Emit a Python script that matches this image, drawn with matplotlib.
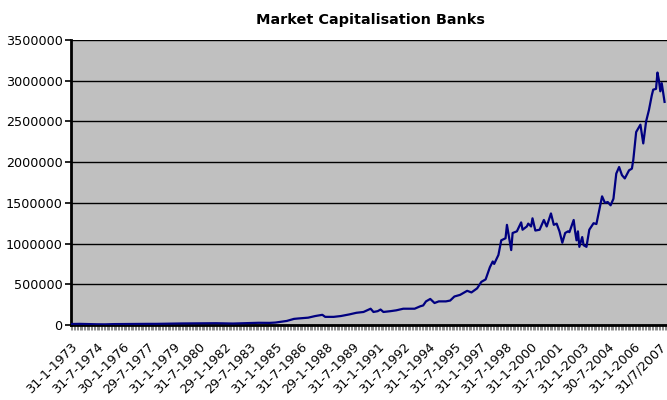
import matplotlib
matplotlib.use("Agg")
import matplotlib.pyplot as plt
from matplotlib.ticker import MultipleLocator

plt.rcParams['font.family'] = ['DejaVu Sans']

# ---- data ----
dates = [
    "1973-01", "1973-07", "1974-01", "1974-07", "1975-01", "1975-07", "1976-01", "1976-07",
    "1977-01", "1977-07", "1978-01", "1978-07", "1979-01", "1979-07", "1980-01", "1980-07",
    "1981-01", "1981-07", "1982-01", "1982-07", "1983-01", "1983-07", "1984-01", "1984-09",
    "1985-01", "1985-04", "1985-09", "1986-02", "1986-05", "1986-12", "1987-05", "1987-10",
    "1987-12", "1988-06", "1988-11", "1989-05", "1989-10", "1990-03", "1990-08", "1990-10",
    "1991-01", "1991-03", "1991-05", "1991-10", "1992-02", "1992-07", "1992-12", "1993-03",
    "1993-07", "1993-09", "1993-11", "1994-02", "1994-05", "1994-08", "1995-01", "1995-04",
    "1995-07", "1995-11", "1996-04", "1996-07", "1996-11", "1997-02", "1997-05", "1997-08",
    "1997-10", "1997-11", "1998-02", "1998-04", "1998-07", "1998-08", "1998-11", "1998-12",
    "1999-03", "1999-06", "1999-07", "1999-10", "1999-11", "2000-01", "2000-02", "2000-04",
    "2000-07", "2000-10", "2000-12", "2001-03", "2001-05", "2001-07", "2001-09", "2001-11",
    "2002-01", "2002-03", "2002-04", "2002-07", "2002-08", "2002-09", "2002-10", "2002-11",
    "2003-01", "2003-02", "2003-04", "2003-06", "2003-09", "2003-11", "2004-01", "2004-03",
    "2004-05", "2004-07", "2004-09", "2004-11", "2005-01", "2005-03", "2005-05", "2005-07",
    "2005-10", "2005-12", "2006-01", "2006-03", "2006-06", "2006-08", "2006-10", "2006-12",
    "2007-02", "2007-03", "2007-05", "2007-06", "2007-07", "2007-08", "2007-09", "2007-11",
]
market_cap = [
    12000, 14000, 11000, 9000, 8000, 11000, 12000, 13000,
    13000, 14000, 14000, 16000, 18000, 19000, 20000, 22000,
    23000, 22000, 20000, 18000, 21000, 25000, 27000, 26000,
    30000, 38000, 50000, 75000, 80000, 90000, 110000, 125000,
    100000, 100000, 110000, 130000, 150000, 160000, 200000, 160000,
    170000, 190000, 160000, 170000, 180000, 200000, 200000, 200000,
    230000, 240000, 290000, 320000, 270000, 290000, 290000, 300000,
    350000, 370000, 420000, 400000, 450000, 530000, 560000, 710000,
    780000, 750000, 860000, 1040000, 1065000, 1230000, 920000, 1130000,
    1150000, 1260000, 1170000, 1210000, 1245000, 1210000, 1310000, 1160000,
    1170000, 1290000, 1210000, 1370000, 1230000, 1245000, 1150000, 1010000,
    1130000, 1150000, 1140000, 1290000, 1150000, 1040000, 1150000, 960000,
    1080000, 980000, 960000, 1170000, 1250000, 1240000, 1410000, 1580000,
    1500000, 1510000, 1470000, 1550000, 1860000, 1940000, 1840000, 1800000,
    1900000, 1920000, 2030000, 2370000, 2460000, 2230000, 2500000, 2640000,
    2820000, 2890000, 2900000, 3100000, 3010000, 2870000, 2970000, 2740000,
]
tick_labels = [
    "31-1-1973", "31-7-1974", "30-1-1976", "29-7-1977", "31-1-1979", "31-7-1980",
    "29-1-1982", "29-7-1983", "31-1-1985", "31-7-1986", "29-1-1988", "31-7-1989",
    "31-1-1991", "31-7-1992", "31-1-1994", "31-7-1995", "31-1-1997", "31-7-1998",
    "31-1-2000", "31-7-2001", "31-1-2003", "30-7-2004", "31-1-2006", "31/7/2007",
]
title = "Market Capitalisation Banks"

# month index from Jan 1973
def month_index(s):
    y, m = s.split("-")
    return (int(y) - 1973) * 12 + int(m) - 1

x = [month_index(d) for d in dates]

fig = plt.figure(figsize=(6.67, 4.0), dpi=100)
fig.patch.set_facecolor("white")
left = 71 / 667
bottom = 75 / 400
height = 285 / 400
xmax = 425
width = xmax * 1.42 / 667
ax = fig.add_axes([left, bottom, width, height])
ax.set_facecolor("#C0C0C0")

ax.plot(x, market_cap, color="#000080", lw=1.6, zorder=3)

ax.set_xlim(0, xmax)
ax.set_ylim(0, 3500000)
ax.yaxis.set_major_locator(MultipleLocator(500000))
ax.yaxis.grid(True, color="black", lw=1.0)
ax.set_axisbelow(True)
ax.set_yticklabels([str(int(v)) for v in ax.get_yticks()])

ax.set_xticks([i * 18 for i in range(len(tick_labels))])
ax.set_xticklabels(tick_labels, rotation=45, ha="right", va="top",
                   rotation_mode="anchor", fontsize=9.2)
ax.xaxis.set_minor_locator(MultipleLocator(1))
ax.tick_params(axis="x", which="both", length=3.5, width=0.6, color="#777777", pad=7.5)
ax.tick_params(axis="y", length=4, width=1.2, color="black", labelsize=9.2, pad=2)

for s in ["top", "right"]:
    ax.spines[s].set_visible(False)
ax.spines["left"].set_linewidth(2)
ax.spines["bottom"].set_linewidth(2)

fig.text(0.555, 1 - 20 / 400, title, ha="center", va="center",
         fontsize=10.4, fontweight="bold")

fig.savefig("out.png", dpi=100)
